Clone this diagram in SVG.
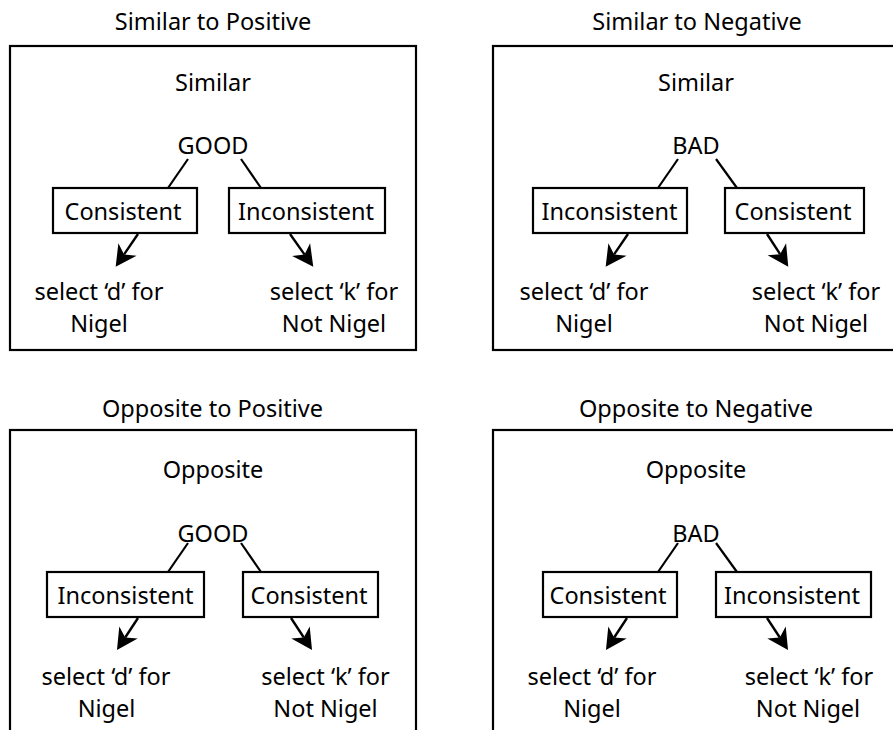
<svg xmlns="http://www.w3.org/2000/svg" width="893" height="730" viewBox="0 0 893 730">
<style>
  text { font-family: "Noto Sans", "Open Sans", "Liberation Sans", sans-serif; font-size: 23.5px; fill: #000; text-anchor: middle; }
  .frame { fill: none; stroke: #000; stroke-width: 2.2; }
  .box { fill: #fff; stroke: #000; stroke-width: 2.2; }
  .link { stroke: #000; stroke-width: 2.2; fill: none; }
  .arrow { stroke: #000; stroke-width: 2.4; fill: none; marker-end: url(#head); }
</style>
<defs>
  <marker id="head" markerUnits="userSpaceOnUse" orient="auto" refX="6" refY="0" markerWidth="30" markerHeight="30" overflow="visible">
    <path d="M0,-11 L21,0 L0,11 L6,0 Z" fill="#000"/>
  </marker>
</defs>
<rect width="893" height="730" fill="#fff"/>

<!-- Panel 1 -->
<g id="panel-similar-positive">
  <text x="213" y="30">Similar to Positive</text>
  <rect class="frame" x="10" y="46" width="406" height="304"/>
  <text x="213" y="91">Similar</text>
</g>
<g id="p1-good"><text x="213" y="154">GOOD</text></g>
<g id="p1-consistent"><rect class="box" x="53" y="188" width="144" height="45"/><text x="123" y="219.5">Consistent</text></g>
<g id="p1-inconsistent"><rect class="box" x="229" y="188" width="156" height="45"/><text x="306" y="219.5">Inconsistent</text></g>
<g id="p1-d"><text x="99" y="300">select ‘d’ for</text><text x="99" y="332">Nigel</text></g>
<g id="p1-k"><text x="334" y="300">select ‘k’ for</text><text x="334" y="332">Not Nigel</text></g>

<!-- Panel 2 -->
<g id="panel-similar-negative">
  <text x="697" y="30">Similar to Negative</text>
  <rect class="frame" x="493" y="46" width="410" height="304"/>
  <text x="696" y="91">Similar</text>
</g>
<g id="p2-bad"><text x="696" y="154">BAD</text></g>
<g id="p2-inconsistent"><rect class="box" x="533" y="188" width="154" height="45"/><text x="609.5" y="219.5">Inconsistent</text></g>
<g id="p2-consistent"><rect class="box" x="725" y="188" width="139" height="45"/><text x="793" y="219.5">Consistent</text></g>
<g id="p2-d"><text x="584" y="300">select ‘d’ for</text><text x="584" y="332">Nigel</text></g>
<g id="p2-k"><text x="816" y="300">select ‘k’ for</text><text x="816" y="332">Not Nigel</text></g>

<!-- Panel 3 -->
<g id="panel-opposite-positive">
  <text x="212.5" y="417">Opposite to Positive</text>
  <rect class="frame" x="10" y="430" width="406" height="320"/>
  <text x="213" y="478">Opposite</text>
</g>
<g id="p3-good"><text x="213" y="541.5">GOOD</text></g>
<g id="p3-inconsistent"><rect class="box" x="47" y="572" width="157" height="45"/><text x="125.5" y="604">Inconsistent</text></g>
<g id="p3-consistent"><rect class="box" x="243" y="572" width="135" height="45"/><text x="309" y="604">Consistent</text></g>
<g id="p3-d"><text x="106" y="685">select ‘d’ for</text><text x="106.5" y="716.5">Nigel</text></g>
<g id="p3-k"><text x="325.5" y="685">select ‘k’ for</text><text x="325.5" y="716.5">Not Nigel</text></g>

<!-- Panel 4 -->
<g id="panel-opposite-negative">
  <text x="696" y="417">Opposite to Negative</text>
  <rect class="frame" x="493" y="430" width="410" height="320"/>
  <text x="696" y="478">Opposite</text>
</g>
<g id="p4-bad"><text x="696" y="541.5">BAD</text></g>
<g id="p4-consistent"><rect class="box" x="543" y="572" width="134" height="45"/><text x="608" y="604">Consistent</text></g>
<g id="p4-inconsistent"><rect class="box" x="716" y="572" width="155" height="45"/><text x="792" y="604">Inconsistent</text></g>
<g id="p4-d"><text x="592" y="685">select ‘d’ for</text><text x="592" y="716.5">Nigel</text></g>
<g id="p4-k"><text x="809" y="685">select ‘k’ for</text><text x="808" y="716.5">Not Nigel</text></g>

<g id="connectors">
  <line class="link" x1="188" y1="159" x2="168" y2="188"/>
  <line class="link" x1="241" y1="159" x2="261" y2="188"/>
  <line class="link" x1="678" y1="159" x2="658" y2="188"/>
  <line class="link" x1="716" y1="159" x2="737" y2="188"/>
  <line class="link" x1="188" y1="543" x2="168" y2="572"/>
  <line class="link" x1="241" y1="543" x2="261" y2="572"/>
  <line class="link" x1="678" y1="543" x2="658" y2="572"/>
  <line class="link" x1="716" y1="543" x2="737" y2="572"/>

  <line class="arrow" x1="138" y1="234" x2="124.1" y2="254.4"/>
  <line class="arrow" x1="290" y1="234" x2="304.6" y2="254.6"/>
  <line class="arrow" x1="628" y1="234" x2="614.1" y2="254.4"/>
  <line class="arrow" x1="767" y1="234" x2="780.1" y2="254.2"/>
  <line class="arrow" x1="138" y1="618" x2="125.2" y2="637.5"/>
  <line class="arrow" x1="291" y1="618" x2="303.8" y2="637.5"/>
  <line class="arrow" x1="627" y1="618" x2="614.2" y2="637.5"/>
  <line class="arrow" x1="767" y1="618" x2="779.8" y2="637.5"/>
</g>
</svg>
